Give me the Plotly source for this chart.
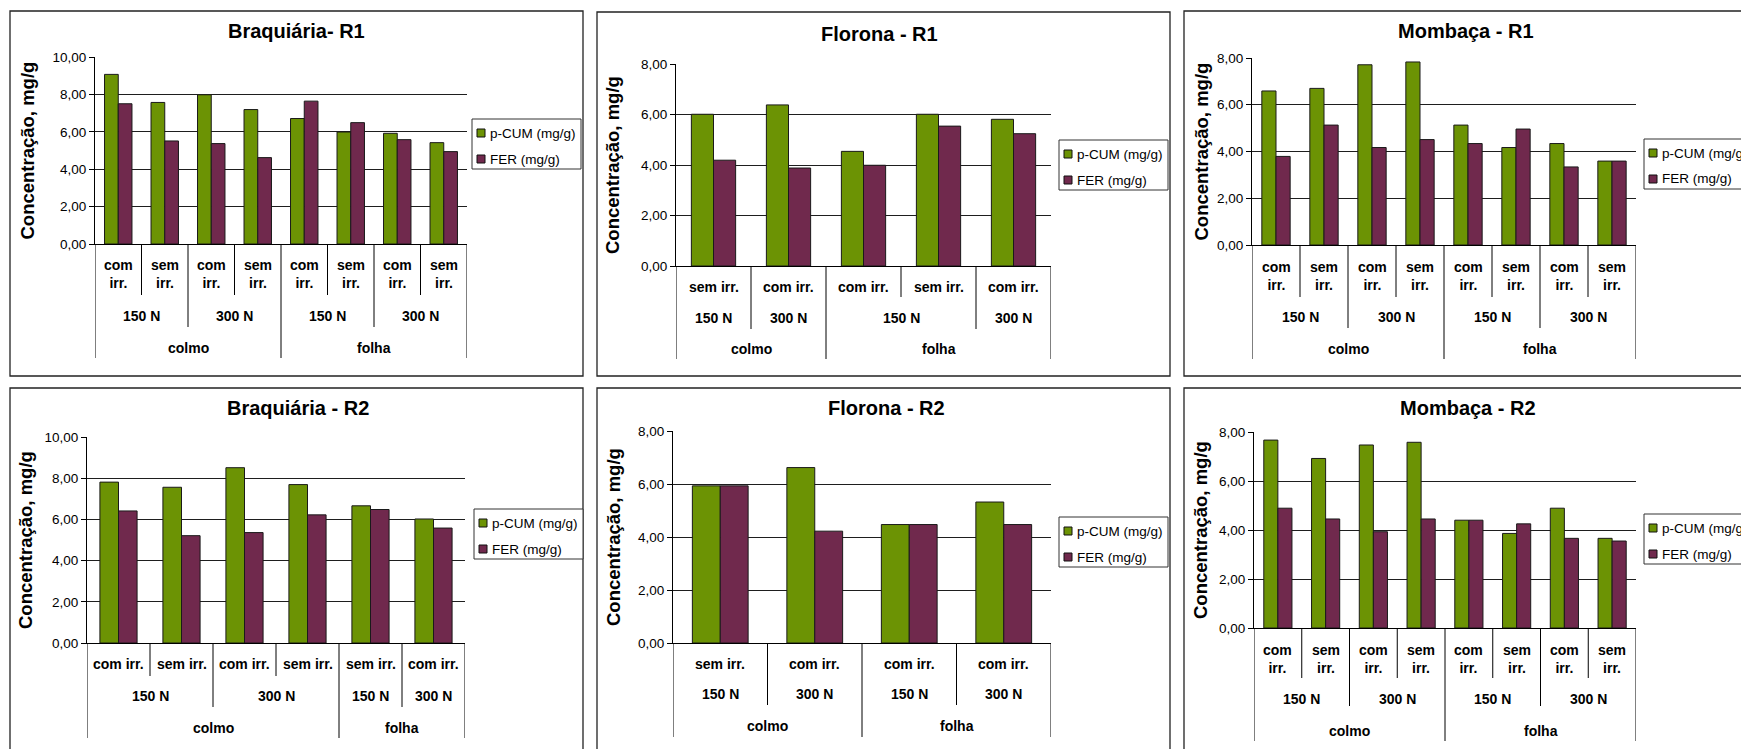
import plotly.graph_objects as go

W, H = 1741, 749
FONT = "Arial, 'Liberation Sans', sans-serif"

series_names = ["p-CUM (mg/g)", "FER (mg/g)"]
y_title = "Concentração, mg/g"

# ---------------- data ----------------
# Braquiária - R1
br1_irr = ["com irr.", "sem irr.", "com irr.", "sem irr.", "com irr.", "sem irr.", "com irr.", "sem irr."]
br1_n = ["150 N", "150 N", "300 N", "300 N", "150 N", "150 N", "300 N", "300 N"]
br1_part = ["colmo", "colmo", "colmo", "colmo", "folha", "folha", "folha", "folha"]
br1_pcum = [9.07, 7.57, 7.98, 7.19, 6.71, 5.99, 5.92, 5.42]
br1_fer = [7.50, 5.51, 5.37, 4.62, 7.64, 6.49, 5.58, 4.94]

# Florona - R1
fl1_irr = ["sem irr.", "com irr.", "com irr.", "sem irr.", "com irr."]
fl1_n = ["150 N", "300 N", "150 N", "150 N", "300 N"]
fl1_part = ["colmo", "colmo", "folha", "folha", "folha"]
fl1_pcum = [6.01, 6.38, 4.54, 6.01, 5.81]
fl1_fer = [4.19, 3.88, 3.99, 5.54, 5.24]

# Mombaça - R1
mo1_irr = ["com irr.", "sem irr.", "com irr.", "sem irr.", "com irr.", "sem irr.", "com irr.", "sem irr."]
mo1_n = ["150 N", "150 N", "300 N", "300 N", "150 N", "150 N", "300 N", "300 N"]
mo1_part = ["colmo", "colmo", "colmo", "colmo", "folha", "folha", "folha", "folha"]
mo1_pcum = [6.59, 6.70, 7.71, 7.83, 5.13, 4.17, 4.34, 3.59]
mo1_fer = [3.79, 5.13, 4.17, 4.51, 4.34, 4.96, 3.34, 3.59]

# Braquiária - R2
br2_irr = ["com irr.", "sem irr.", "com irr.", "sem irr.", "sem irr.", "com irr."]
br2_n = ["150 N", "150 N", "300 N", "300 N", "150 N", "300 N"]
br2_part = ["colmo", "colmo", "colmo", "colmo", "folha", "folha"]
br2_pcum = [7.81, 7.56, 8.51, 7.69, 6.66, 6.02]
br2_fer = [6.41, 5.21, 5.36, 6.22, 6.48, 5.58]

# Florona - R2
fl2_irr = ["sem irr.", "com irr.", "com irr.", "com irr."]
fl2_n = ["150 N", "300 N", "150 N", "300 N"]
fl2_part = ["colmo", "colmo", "folha", "folha"]
fl2_pcum = [5.93, 6.62, 4.47, 5.32]
fl2_fer = [5.93, 4.22, 4.47, 4.47]

# Mombaça - R2
mo2_irr = ["com irr.", "sem irr.", "com irr.", "sem irr.", "com irr.", "sem irr.", "com irr.", "sem irr."]
mo2_n = ["150 N", "150 N", "300 N", "300 N", "150 N", "150 N", "300 N", "300 N"]
mo2_part = ["colmo", "colmo", "colmo", "colmo", "folha", "folha", "folha", "folha"]
mo2_pcum = [7.67, 6.92, 7.47, 7.58, 4.40, 3.86, 4.89, 3.66]
mo2_fer = [4.89, 4.45, 3.93, 4.45, 4.40, 4.25, 3.66, 3.55]

# ---------------- layout geometry (pixels) ----------------
panels = [
    dict(title="Braquiária- R1", irr=br1_irr, n=br1_n, part=br1_part, pcum=br1_pcum, fer=br1_fer,
         ymax=10, box=(10, 11, 583, 376), plot=(95, 57, 467, 244), wrap=True,
         l1=274, l2=316, l3=348, s1=295, s2=327, s3=358, ytx=27, ttl=(296, 31), leg=(472, 119)),
    dict(title="Florona - R1", irr=fl1_irr, n=fl1_n, part=fl1_part, pcum=fl1_pcum, fer=fl1_fer,
         ymax=8, box=(597, 12, 1170, 376), plot=(676, 64, 1051, 266), wrap=False,
         l1=287, l2=318, l3=349, s1=297, s2=329, s3=359, ytx=613, ttl=(880, 34), leg=(1059, 140)),
    dict(title="Mombaça - R1", irr=mo1_irr, n=mo1_n, part=mo1_part, pcum=mo1_pcum, fer=mo1_fer,
         ymax=8, box=(1184, 11, 1760, 376), plot=(1252, 58, 1636, 245), wrap=True,
         l1=276, l2=317, l3=349, s1=297, s2=328, s3=359, ytx=1201, ttl=(1466, 31), leg=(1644, 139)),
    dict(title="Braquiária - R2", irr=br2_irr, n=br2_n, part=br2_part, pcum=br2_pcum, fer=br2_fer,
         ymax=10, box=(10, 388, 583, 770), plot=(87, 437, 465, 643), wrap=False,
         l1=664, l2=696, l3=728, s1=676, s2=707, s3=738, ytx=25, ttl=(298, 408), leg=(474, 509)),
    dict(title="Florona - R2", irr=fl2_irr, n=fl2_n, part=fl2_part, pcum=fl2_pcum, fer=fl2_fer,
         ymax=8, box=(597, 388, 1170, 770), plot=(673, 431, 1051, 643), wrap=False,
         l1=664, l2=694, l3=726, s1=676, s2=705, s3=737, ytx=613, ttl=(886, 408), leg=(1059, 517)),
    dict(title="Mombaça - R2", irr=mo2_irr, n=mo2_n, part=mo2_part, pcum=mo2_pcum, fer=mo2_fer,
         ymax=8, box=(1184, 388, 1760, 770), plot=(1254, 432, 1636, 628), wrap=True,
         l1=659, l2=699, l3=731, s1=678, s2=706, s3=741, ytx=1200, ttl=(1468, 408), leg=(1644, 514)),
]

GREEN = "#6c9304"
PURPLE = "#70294d"
EDGE = "#1a1a1a"
LEG_W, LEG_H = 109, 50


def px(x):
    return x / W


def py(y):
    return 1 - y / H


fig = go.Figure()
annotations = []
shapes = []
layout_extra = {}
colors = [GREEN, PURPLE]

for k, p in enumerate(panels, start=1):
    xa = "x" if k == 1 else f"x{k}"
    ya = "y" if k == 1 else f"y{k}"
    xkey = "xaxis" if k == 1 else f"xaxis{k}"
    ykey = "yaxis" if k == 1 else f"yaxis{k}"
    n = len(p["irr"])
    xs = list(range(n))
    x0, ytop, x1, y0 = p["plot"]

    for name, vals, col in ((series_names[0], p["pcum"], GREEN), (series_names[1], p["fer"], PURPLE)):
        fig.add_trace(go.Bar(
            x=xs, y=vals, name=name, xaxis=xa, yaxis=ya, showlegend=False,
            marker=dict(color=col, line=dict(color=EDGE, width=1)),
        ))

    layout_extra[xkey] = dict(domain=[px(x0), px(x1)], range=[-0.5, n - 0.5], anchor=ya,
                              showticklabels=False, showgrid=False, zeroline=False,
                              showline=True, linecolor="#000", linewidth=1, ticks="", fixedrange=True)
    layout_extra[ykey] = dict(domain=[py(y0), py(ytop)], range=[0, p["ymax"]], anchor=xa,
                              dtick=2, tick0=0, tickformat=".2f", showgrid=True, gridcolor="#1e1e1e",
                              gridwidth=1, zeroline=False, showline=True, linecolor="#000", linewidth=1,
                              ticks="outside", ticklen=5, tickcolor="#000",
                              tickfont=dict(family=FONT, size=13.5, color="#000"))

    # panel border
    bx0, by0, bx1, by1 = p["box"]
    shapes.append(dict(type="rect", xref="paper", yref="paper", x0=px(bx0), x1=px(bx1),
                       y0=py(by1), y1=py(by0), line=dict(color="#222", width=1.3), layer="below"))

    # legend (box, swatches, labels)
    lx, ly = p["leg"]
    shapes.append(dict(type="rect", xref="paper", yref="paper", x0=px(lx), x1=px(lx + LEG_W),
                       y0=py(ly + LEG_H), y1=py(ly), fillcolor="#fff",
                       line=dict(color="#333", width=1)))
    for j, (nm, col) in enumerate(zip(series_names, colors)):
        cy = ly + 14 + 26 * j
        shapes.append(dict(type="rect", xref="paper", yref="paper", x0=px(lx + 5), x1=px(lx + 13),
                           y0=py(cy + 4), y1=py(cy - 4), fillcolor=col,
                           line=dict(color="#111", width=1)))
        annotations.append(dict(text=nm, xref="paper", yref="paper", x=px(lx + 16), y=py(cy),
                                showarrow=False, xanchor="left", yanchor="middle",
                                font=dict(family=FONT, size=13.5, color="#000")))

    # title
    tx, ty = p["ttl"]
    annotations.append(dict(text=f"<b>{p['title']}</b>", xref="paper", yref="paper", x=px(tx), y=py(ty),
                            showarrow=False, xanchor="center", yanchor="middle",
                            font=dict(family=FONT, size=20, color="#000")))
    # y title
    annotations.append(dict(text=f"<b>{y_title}</b>", xref="paper", yref="paper", x=px(p["ytx"]),
                            y=py((ytop + y0) / 2), showarrow=False, textangle=-90,
                            xanchor="center", yanchor="middle",
                            font=dict(family=FONT, size=18.5, color="#000")))

    catfont = dict(family=FONT, size=14, color="#000")
    # level 1 labels
    for i, lab in enumerate(p["irr"]):
        t = lab.replace(" ", "<br>") if p["wrap"] else lab
        annotations.append(dict(text=f"<b>{t}</b>", xref=xa, yref="paper", x=i, y=py(p["l1"]),
                                showarrow=False, xanchor="center", yanchor="middle", font=catfont))

    def groups(keys):
        out = []
        start = 0
        for i in range(1, n + 1):
            if i == n or keys[i] != keys[start]:
                out.append((start, i - 1, keys[start]))
                start = i
        return out

    lvl2_keys = [(a, b) for a, b in zip(p["part"], p["n"])]
    for s, e, key in groups(lvl2_keys):
        annotations.append(dict(text=f"<b>{key[1]}</b>", xref=xa, yref="paper", x=(s + e) / 2,
                                y=py(p["l2"]), showarrow=False, xanchor="center", yanchor="middle",
                                font=catfont))
    for s, e, key in groups(p["part"]):
        annotations.append(dict(text=f"<b>{key}</b>", xref=xa, yref="paper", x=(s + e) / 2,
                                y=py(p["l3"]), showarrow=False, xanchor="center", yanchor="middle",
                                font=catfont))

    # separators below the category axis
    for b in range(n + 1):
        if b == 0 or b == n or p["part"][b] != p["part"][b - 1]:
            depth = p["s3"]
        elif p["n"][b] != p["n"][b - 1]:
            depth = p["s2"]
        else:
            depth = p["s1"]
        shapes.append(dict(type="line", xref=xa, yref="paper", x0=b - 0.5, x1=b - 0.5,
                           y0=py(y0), y1=py(depth), line=dict(color="#000", width=1)))

fig.update_layout(
    width=W, height=H, margin=dict(l=0, r=0, t=0, b=0, autoexpand=False),
    paper_bgcolor="#fff", plot_bgcolor="#fff",
    barmode="group", bargap=0.41, bargroupgap=0,
    separators=",.", showlegend=False,
    annotations=annotations, shapes=shapes,
    font=dict(family=FONT, color="#000"),
    **layout_extra,
)

fig.write_html("out.html")
